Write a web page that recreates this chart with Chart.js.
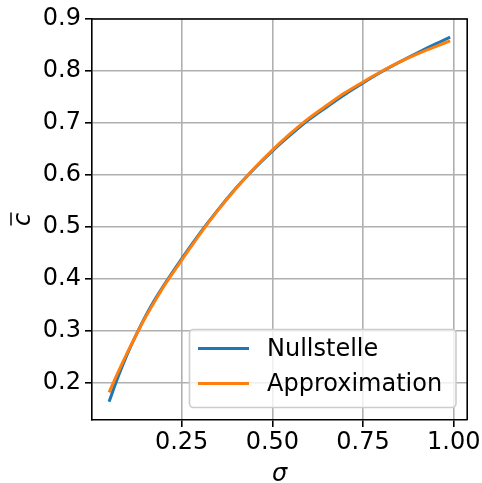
<!DOCTYPE html>
<html>
<head>
<meta charset="utf-8">
<script src="https://cdn.jsdelivr.net/npm/chart.js@4.4.0/dist/chart.umd.min.js"></script>
<style>
  html, body { margin: 0; padding: 0; background: #fff; }
  canvas { display: block; }
</style>
</head>
<body>
<canvas id="chart" width="482" height="483"></canvas>
<script>
// values
const sigma = [0.05, 0.075, 0.10, 0.125, 0.15, 0.175, 0.20, 0.25, 0.30, 0.35, 0.40, 0.45,
               0.50, 0.55, 0.60, 0.65, 0.70, 0.75, 0.80, 0.85, 0.90, 0.95, 0.99];
const nullstelle = [0.164, 0.212, 0.255, 0.293, 0.328, 0.359, 0.387, 0.439, 0.488, 0.533, 0.575, 0.612,
                    0.646, 0.677, 0.706, 0.731, 0.755, 0.777, 0.798, 0.817, 0.835, 0.852, 0.865];
const approximation = [0.182, 0.221, 0.258, 0.293, 0.326, 0.356, 0.385, 0.436, 0.486, 0.532, 0.574, 0.613,
                       0.648, 0.680, 0.709, 0.734, 0.758, 0.779, 0.799, 0.817, 0.833, 0.847, 0.858];
const xTicks = [0.25, 0.50, 0.75, 1.00];
const yTicks = [0.2, 0.3, 0.4, 0.5, 0.6, 0.7, 0.8, 0.9];
const seriesNames = ['Nullstelle', 'Approximation'];
const seriesColors = ['#1f77b4', '#ff7f0e'];

const FONT = 'DejaVu Sans';
const FSIZE = 24;
const toPoints = ys => sigma.map((x, i) => ({ x: x, y: ys[i] }));

// frame, axis titles and legend drawn the matplotlib way
const extras = {
    id: 'extras',
    afterDraw(chart) {
        const ctx = chart.ctx;
        const a = chart.chartArea;
        ctx.save();

        // top + right spines
        ctx.strokeStyle = '#000';
        ctx.lineWidth = 1.6;
        ctx.beginPath();
        ctx.moveTo(a.left, a.top);
        ctx.lineTo(a.right, a.top);
        ctx.lineTo(a.right, a.bottom);
        ctx.stroke();

        // x title
        ctx.fillStyle = '#000';
        ctx.font = 'italic ' + FSIZE + 'px "' + FONT + '"';
        ctx.textAlign = 'center';
        ctx.textBaseline = 'alphabetic';
        ctx.fillText('σ', (a.left + a.right) / 2, 481);

        // y title: c with overline, rotated
        ctx.save();
        ctx.translate(30, (a.top + a.bottom) / 2);
        ctx.rotate(-Math.PI / 2);
        ctx.fillText('c', 0, 0);
        ctx.lineWidth = 1.5;
        ctx.beginPath();
        ctx.moveTo(-6, -19);
        ctx.lineTo(7, -19);
        ctx.stroke();
        ctx.restore();

        // legend box
        const bx = 189.5, by = 329.5, bw = 266.5, bh = 78, r = 4;
        ctx.beginPath();
        ctx.moveTo(bx + r, by);
        ctx.arcTo(bx + bw, by, bx + bw, by + bh, r);
        ctx.arcTo(bx + bw, by + bh, bx, by + bh, r);
        ctx.arcTo(bx, by + bh, bx, by, r);
        ctx.arcTo(bx, by, bx + bw, by, r);
        ctx.closePath();
        ctx.fillStyle = 'rgba(255,255,255,0.8)';
        ctx.fill();
        ctx.strokeStyle = '#cccccc';
        ctx.lineWidth = 1.6;
        ctx.stroke();

        ctx.font = FSIZE + 'px "' + FONT + '"';
        ctx.textAlign = 'left';
        ctx.textBaseline = 'middle';
        seriesNames.forEach((name, i) => {
            const y = 348.5 + i * 35;
            ctx.strokeStyle = seriesColors[i];
            ctx.lineWidth = 3;
            ctx.beginPath();
            ctx.moveTo(198, y);
            ctx.lineTo(249, y);
            ctx.stroke();
            ctx.fillStyle = '#000';
            ctx.fillText(name, 267, y + 1);
        });

        ctx.restore();
    }
};

new Chart(document.getElementById('chart'), {
    type: 'scatter',
    data: {
        datasets: [
            {
                label: seriesNames[0],
                data: toPoints(nullstelle),
                showLine: true,
                borderColor: seriesColors[0],
                borderWidth: 3,
                pointRadius: 0,
                cubicInterpolationMode: 'monotone',
                order: 2
            },
            {
                label: seriesNames[1],
                data: toPoints(approximation),
                showLine: true,
                borderColor: seriesColors[1],
                borderWidth: 3,
                pointRadius: 0,
                cubicInterpolationMode: 'monotone',
                order: 1
            }
        ]
    },
    options: {
        responsive: false,
        animation: false,
        layout: { padding: { left: 0, right: 14, top: 19, bottom: 0 } },
        plugins: { legend: { display: false }, tooltip: { enabled: false } },
        scales: {
            x: {
                type: 'linear',
                min: 0.003,
                max: 1.037,
                afterBuildTicks: s => { s.ticks = xTicks.map(v => ({ value: v })); },
                afterFit: s => { s.height = 63; },
                grid: { color: '#b0b0b0', lineWidth: 1.6, tickLength: 7, tickColor: '#000' },
                border: { color: '#000', width: 1.6 },
                ticks: {
                    color: '#000',
                    padding: 1,
                    maxRotation: 0,
                    font: { family: FONT, size: FSIZE },
                    callback: v => v.toFixed(2)
                }
            },
            y: {
                min: 0.129,
                max: 0.9,
                afterBuildTicks: s => { s.ticks = yTicks.map(v => ({ value: v })); },
                afterFit: s => { s.width = 92; },
                grid: { color: '#b0b0b0', lineWidth: 1.6, tickLength: 7, tickColor: '#000' },
                border: { color: '#000', width: 1.6 },
                ticks: {
                    color: '#000',
                    padding: 4,
                    font: { family: FONT, size: FSIZE },
                    callback: v => v.toFixed(1)
                }
            }
        }
    },
    plugins: [extras]
});
</script>
</body>
</html>
